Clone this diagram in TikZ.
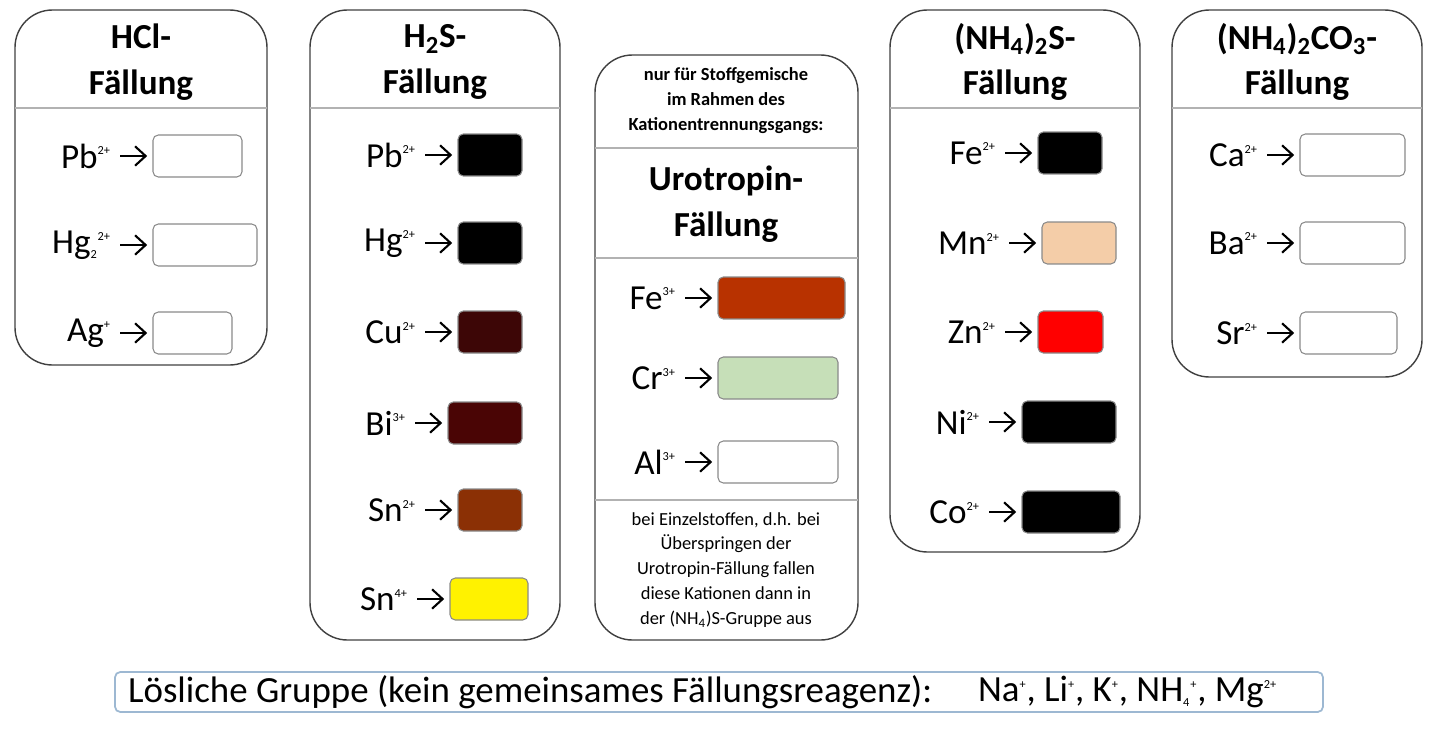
\documentclass[tikz,border=0pt]{standalone}
\usepackage{fontspec}
\setmainfont{Carlito}
\usetikzlibrary{arrows.meta}

\definecolor{cuS}{HTML}{3D0606}
\definecolor{biS}{HTML}{4A0505}
\definecolor{snS}{HTML}{8B3005}
\definecolor{feOH}{HTML}{B83200}
\definecolor{crOH}{HTML}{C6DFB8}
\definecolor{mnS}{HTML}{F4CDA8}
\definecolor{boxline}{HTML}{8A8A8A}
\definecolor{solline}{HTML}{9DB8D2}

\tikzset{
  panel/.style={draw=black!75, line width=0.8pt, rounded corners=0.75cm},
  sep/.style={draw=black!30, line width=0.6pt},
  boxcell/.style={draw=boxline, line width=0.6pt, rounded corners=3pt, minimum height=0.84cm, inner sep=0pt},
  ionlbl/.style={font=\fontsize{20}{24}\selectfont, inner sep=1pt},
  ionarrow/.style={-{Straight Barb[length=6pt,width=11pt]}, line width=1.2pt, shorten >=3pt, shorten <=4pt},
  title/.style={font=\bfseries\fontsize{20}{26}\selectfont, align=center},
  note/.style={font=\fontsize{10.5}{14.2}\selectfont, align=center},
}
\newcommand\chg[1]{\textsuperscript{\scriptsize #1}}
% name, label, y, left x, right x, fill
\newcommand\ionrow[6]{%
  \node[boxcell, fill=#6, minimum width={(#5-#4)*0.02cm}] (#1b) at ({(#4+#5)/2},#3) {};
  \node[ionlbl, anchor=east] (#1) at ({#4-40},#3) {#2};
  \draw[ionarrow] (#1) -- (#1b);}

\begin{document}
\begin{tikzpicture}[x=0.02cm, y=-0.02cm]
\useasboundingbox (0,0) rectangle (1440,737);

% HCl group
\draw[panel] (15,10) rectangle (267,365);
\draw[sep] (15,108) -- (267,108);
\node[title] (hcl) at (141,62) {HCl-\\Fällung};
\ionrow{pbA}{Pb\chg{2+}}{156}{153}{242}{white}
\ionrow{hgA}{Hg\textsubscript{\scriptsize 2}\chg{2+}}{245}{153}{257}{white}
\ionrow{agA}{Ag\chg{+}}{333}{153}{232}{white}

% H2S group
\draw[panel] (310,10) rectangle (560,640);
\draw[sep] (310,108) -- (560,108);
\node[title] (hts) at (435,62) {H\textsubscript{2}S-\\Fällung};
\ionrow{pbB}{Pb\chg{2+}}{155}{458}{522}{black}
\ionrow{hgB}{Hg\chg{2+}}{243}{458}{522}{black}
\ionrow{cuB}{Cu\chg{2+}}{332}{458}{522}{cuS}
\ionrow{biB}{Bi\chg{3+}}{423}{448}{522}{biS}
\ionrow{snB}{Sn\chg{2+}}{510}{458}{522}{snS}
\ionrow{sfB}{Sn\chg{4+}}{599}{450}{528}{yellow}

% Urotropin group
\draw[panel] (595,55) rectangle (858,640);
\draw[sep] (595,148) -- (858,148);
\draw[sep] (595,258) -- (858,258);
\draw[sep] (595,500) -- (858,500);
\node[note, font=\bfseries\fontsize{10.5}{14.2}\selectfont] (uronote) at (726,101) {nur für Stoffgemische\\im Rahmen des\\Kationentrennungsgangs:};
\node[title] (uro) at (726,204) {Urotropin-\\Fällung};
\ionrow{feC}{Fe\chg{3+}}{298}{718}{845}{feOH}
\ionrow{crC}{Cr\chg{3+}}{378}{718}{838}{crOH}
\ionrow{alC}{Al\chg{3+}}{462}{718}{838}{white}
\node[note] (urohint) at (726,570) {bei Einzelstoffen, d.h. bei\\Überspringen der\\Urotropin-Fällung fallen\\diese Kationen dann in\\der (NH\textsubscript{4})S-Gruppe aus};

% (NH4)2S group
\draw[panel] (890,10) rectangle (1140,552);
\draw[sep] (890,108) -- (1140,108);
\node[title] (ams) at (1015,62) {(NH\textsubscript{4})\textsubscript{2}S-\\Fällung};
\ionrow{feD}{Fe\chg{2+}}{153}{1038}{1102}{black}
\ionrow{mnD}{Mn\chg{2+}}{243}{1042}{1116}{mnS}
\ionrow{znD}{Zn\chg{2+}}{332}{1038}{1103}{red}
\ionrow{niD}{Ni\chg{2+}}{422}{1022}{1116}{black}
\ionrow{coD}{Co\chg{2+}}{512}{1022}{1120}{black}

% (NH4)2CO3 group
\draw[panel] (1172,10) rectangle (1422,377);
\draw[sep] (1172,108) -- (1422,108);
\node[title] (amc) at (1297,62) {(NH\textsubscript{4})\textsubscript{2}CO\textsubscript{3}-\\Fällung};
\ionrow{caE}{Ca\chg{2+}}{155}{1300}{1405}{white}
\ionrow{baE}{Ba\chg{2+}}{243}{1300}{1405}{white}
\ionrow{srE}{Sr\chg{2+}}{333}{1300}{1397}{white}

% soluble group
\draw[draw=solline, line width=1pt, rounded corners=3pt] (115,672) rectangle (1323,712);
\node[ionlbl, anchor=west, font=\fontsize{21}{24}\selectfont] (sol) at (126,692) {Lösliche Gruppe (kein gemeinsames Fällungsreagenz):};
\node[ionlbl, anchor=west, font=\fontsize{21}{24}\selectfont] (solions) at (976,692) {Na\chg{+}, Li\chg{+}, K\chg{+}, NH\textsubscript{\scriptsize 4}\chg{+}, Mg\chg{2+}};
\end{tikzpicture}
\end{document}
